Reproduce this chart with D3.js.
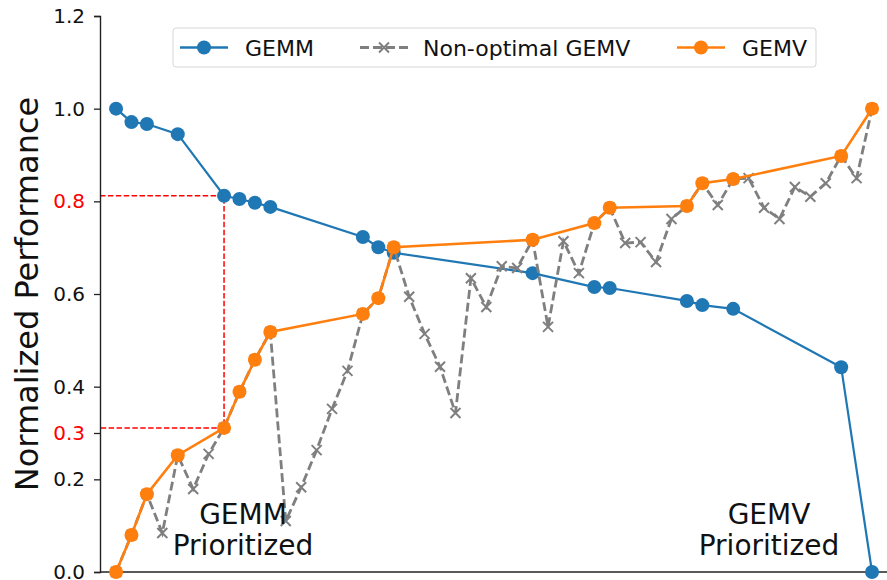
<!DOCTYPE html>
<html>
<head>
<meta charset="utf-8">
<script src="https://cdn.jsdelivr.net/npm/d3@7"></script>
<style>
  body { margin: 0; background: #fff; }
  text { font-family: "DejaVu Sans", sans-serif; }
</style>
</head>
<body>
<div id="chart"></div>
<script>
// configuration indices (x) that are on the pareto front
const paretoIdx = [0, 1, 2, 4, 7, 8, 9, 10, 16, 17, 18, 27, 31, 32, 37, 38, 40, 47, 49];
const gemm = [1.0, 0.971, 0.967, 0.945, 0.812, 0.805, 0.797, 0.788, 0.723, 0.701, 0.689,
              0.645, 0.615, 0.613, 0.585, 0.576, 0.568, 0.442, 0.0];
const gemv = [0.0, 0.08, 0.168, 0.252, 0.311, 0.389, 0.458, 0.518, 0.557, 0.591, 0.701,
              0.717, 0.753, 0.786, 0.790, 0.839, 0.848, 0.898, 1.0];
// every configuration, 0..49
const nonOptimal = [0.0, 0.08, 0.168, 0.084, 0.252, 0.179, 0.255, 0.311, 0.389, 0.458,
                    0.518, 0.11, 0.183, 0.263, 0.352, 0.434, 0.557, 0.591, 0.701, 0.594,
                    0.514, 0.443, 0.343, 0.634, 0.572, 0.660, 0.656, 0.717, 0.529, 0.714,
                    0.645, 0.753, 0.786, 0.710, 0.712, 0.669, 0.762, 0.790, 0.839, 0.792,
                    0.848, 0.850, 0.786, 0.762, 0.831, 0.810, 0.839, 0.898, 0.850, 1.0];
const yTicks = [0.0, 0.2, 0.4, 0.6, 0.8, 1.0, 1.2];
const redTicks = [0.3, 0.8];
const legendNames = ["GEMM", "Non-optimal GEMV", "GEMV"];
// highlighted pair: GEMM 0.812 / GEMV 0.311 at index 7
const markIdx = 7, markHigh = 0.812, markLow = 0.311;

const W = 887, H = 580;
const svg = d3.select("#chart").append("svg")
    .attr("width", W).attr("height", H);

const x = d3.scaleLinear().domain([-1.04, 49.97]).range([100, 887]);
const y = d3.scaleLinear().domain([0, 1.2]).range([572, 16]);

const blue = "#1f77b4", orange = "#ff7f0e", gray = "#7f7f7f";

// red guide lines
const guide = svg.append("g")
    .attr("stroke", "#ff0000").attr("stroke-width", 1.5)
    .attr("stroke-dasharray", "5.5 2.4").attr("fill", "none");
guide.append("path").attr("d", d3.line()([[x.range()[0], y(markHigh)], [x(markIdx), y(markHigh)], [x(markIdx), y(markLow)], [x.range()[0], y(markLow)]]));

// y axis
const isRed = d => redTicks.some(r => Math.abs(d - r) < 1e-9);
const yAxis = svg.append("g")
    .attr("transform", "translate(100,0)")
    .call(d3.axisLeft(y).tickValues(yTicks.concat([0.3]).sort()).tickSize(6).tickPadding(9)
        .tickFormat(d3.format(".1f")));
yAxis.select(".domain").attr("stroke-width", 1.4).attr("stroke", "#222");
yAxis.selectAll(".tick line").attr("stroke-width", 1.3).attr("stroke", "#222");
yAxis.selectAll(".tick text")
    .attr("font-size", 20).attr("font-family", "DejaVu Sans")
    .attr("fill", d => isRed(d) ? "#ff0000" : "#111");

// bottom spine
svg.append("line")
    .attr("x1", 100).attr("x2", W).attr("y1", 572).attr("y2", 572)
    .attr("stroke", "#222").attr("stroke-width", 1.6);

// y label
svg.append("text")
    .attr("transform", "translate(38," + y(0.6) + ") rotate(-90)")
    .attr("text-anchor", "middle")
    .attr("font-size", 32)
    .attr("fill", "#111")
    .text("Normalized Performance");

const line = d3.line().x(d => x(d[0])).y(d => y(d[1]));
const gemmPts = paretoIdx.map((i, k) => [i, gemm[k]]);
const gemvPts = paretoIdx.map((i, k) => [i, gemv[k]]);
const nonPts = nonOptimal.map((v, i) => [i, v]);

// GEMM
svg.append("path").datum(gemmPts).attr("d", line)
    .attr("fill", "none").attr("stroke", blue).attr("stroke-width", 2.2);
svg.append("g").selectAll("circle").data(gemmPts).join("circle")
    .attr("cx", d => x(d[0])).attr("cy", d => y(d[1])).attr("r", 7)
    .attr("fill", blue);

// non-optimal GEMV
svg.append("path").datum(nonPts).attr("d", line)
    .attr("fill", "none").attr("stroke", gray).attr("stroke-width", 2.8)
    .attr("stroke-dasharray", "9 4");
const xs = 5;
svg.append("g").selectAll("path").data(nonPts).join("path")
    .attr("d", d => {
        const cx = x(d[0]), cy = y(d[1]);
        return `M${cx - xs},${cy - xs}L${cx + xs},${cy + xs}M${cx - xs},${cy + xs}L${cx + xs},${cy - xs}`;
    })
    .attr("stroke", gray).attr("stroke-width", 2);

// GEMV
svg.append("path").datum(gemvPts).attr("d", line)
    .attr("fill", "none").attr("stroke", orange).attr("stroke-width", 2.6);
svg.append("g").selectAll("circle").data(gemvPts).join("circle")
    .attr("cx", d => x(d[0])).attr("cy", d => y(d[1])).attr("r", 7)
    .attr("fill", orange);

// annotations
const notes = [["GEMM", "Prioritized", 243], ["GEMV", "Prioritized", 769]];
notes.forEach(n => {
    const t = svg.append("text").attr("text-anchor", "middle")
        .attr("font-size", 28).attr("fill", "#111");
    t.append("tspan").attr("x", n[2]).attr("y", 524).text(n[0]);
    t.append("tspan").attr("x", n[2]).attr("y", 555).text(n[1]);
});

// legend
const lg = svg.append("g");
lg.append("rect")
    .attr("x", 173).attr("y", 28).attr("width", 643).attr("height", 39).attr("rx", 3)
    .attr("fill", "#fff").attr("fill-opacity", 0.8)
    .attr("stroke", "#d6d6d6").attr("stroke-width", 1);
const ly = 47.5;
const entries = [
    {x0: 180, tx: 245, color: blue, kind: "circle"},
    {x0: 360, tx: 423, color: gray, kind: "x"},
    {x0: 677, tx: 742, color: orange, kind: "circle"}
];
entries.forEach((e, k) => {
    lg.append("line")
        .attr("x1", e.x0).attr("x2", e.x0 + 48).attr("y1", ly).attr("y2", ly)
        .attr("stroke", e.color).attr("stroke-width", e.kind === "x" ? 2.8 : 2.4)
        .attr("stroke-dasharray", e.kind === "x" ? "9 4" : null);
    if (e.kind === "circle") {
        lg.append("circle").attr("cx", e.x0 + 24).attr("cy", ly).attr("r", 7).attr("fill", e.color);
    } else {
        const cx = e.x0 + 24;
        lg.append("path")
            .attr("d", `M${cx - xs},${ly - xs}L${cx + xs},${ly + xs}M${cx - xs},${ly + xs}L${cx + xs},${ly - xs}`)
            .attr("stroke", gray).attr("stroke-width", 2);
    }
    lg.append("text").attr("x", e.tx).attr("y", ly + 8)
        .attr("font-size", 22).attr("fill", "#111").text(legendNames[k]);
});
</script>
</body>
</html>
